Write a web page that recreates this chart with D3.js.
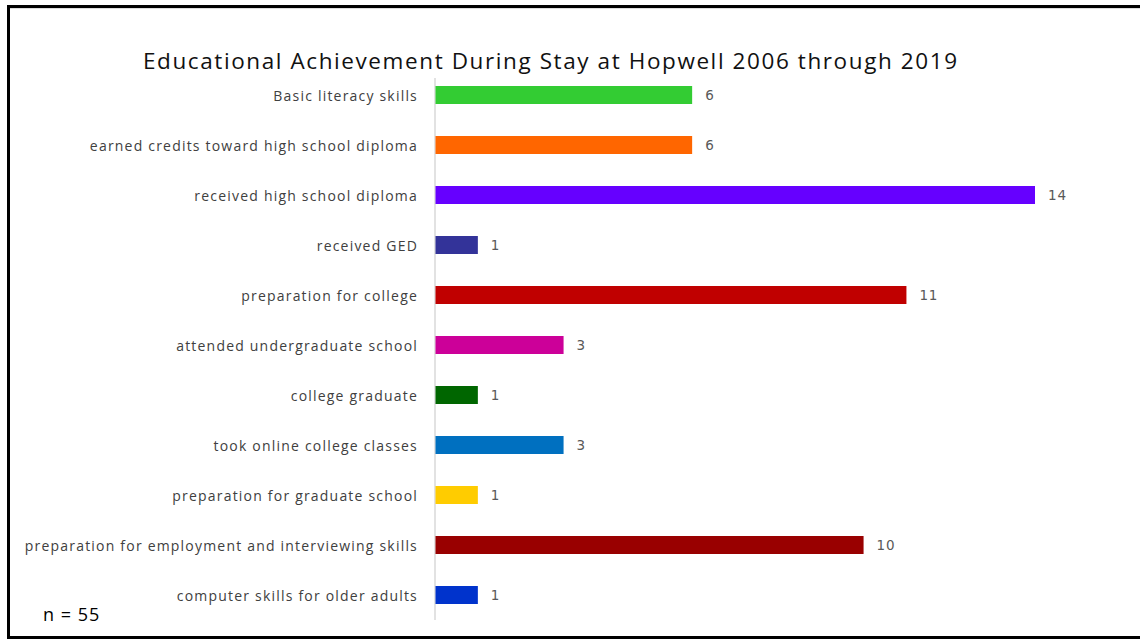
<!DOCTYPE html>
<html>
<head>
<meta charset="utf-8">
<script src="https://cdn.jsdelivr.net/npm/d3@7"></script>
<style>
  html, body { margin: 0; padding: 0; background: #fff; }
  svg { display: block; }
</style>
</head>
<body>
<svg id="chart" width="1140" height="640"></svg>
<script>
// Educational achievement counts, top to bottom
const categories = [
  "Basic literacy skills",
  "earned credits toward high school diploma",
  "received high school diploma",
  "received GED",
  "preparation for college",
  "attended undergraduate school",
  "college graduate",
  "took online college classes",
  "preparation for graduate school",
  "preparation for employment and interviewing skills",
  "computer skills for older adults"
];
const counts = [6, 6, 14, 1, 11, 3, 1, 3, 1, 10, 1];
const barColors = [
  "#33CC33", "#FF6600", "#6600FF", "#333399", "#C00000", "#CC0099",
  "#006600", "#0070C0", "#FFCC00", "#990000", "#0033CC"
];
const titleText = "Educational Achievement During Stay at Hopwell 2006 through 2019";
const noteText = "n = 55";

const svg = d3.select("#chart");

// frame: left, top and bottom edges
svg.append("line")
  .attr("x1", 10).attr("x2", 1140)
  .attr("y1", 8.5).attr("y2", 8.5)
  .attr("stroke", "#dcdcdc")
  .attr("stroke-width", 1);
svg.append("path")
  .attr("d", "M1140,6.5 H8.5 V637.5 H1140")
  .attr("fill", "none")
  .attr("stroke", "#000")
  .attr("stroke-width", 3);

const x = d3.scaleLinear().domain([0, 14]).range([435, 1035]);
const y = d3.scaleBand()
  .domain(categories)
  .range([70, 620])
  .paddingInner(0.64)
  .paddingOuter(0.32);

// title
svg.append("text")
  .attr("x", 143)
  .attr("y", 69)
  .attr("font-family", "'Open Sans', sans-serif")
  .attr("font-size", 22.5)
  .attr("fill", "#111")
  .attr("textLength", 814)
  .attr("lengthAdjust", "spacing")
  .text(titleText);

// baseline
svg.append("line")
  .attr("x1", x(0)).attr("x2", x(0))
  .attr("y1", 78).attr("y2", 620)
  .attr("stroke", "#d9d9d9")
  .attr("stroke-width", 1.5);

// bars
svg.append("g").selectAll("rect")
  .data(categories)
  .join("rect")
  .attr("x", x(0) + 0.5)
  .attr("y", d => y(d))
  .attr("width", (d, i) => x(counts[i]) - x(0) - 0.5)
  .attr("height", y.bandwidth())
  .attr("fill", (d, i) => barColors[i]);

// value labels
svg.append("g").selectAll("text")
  .data(categories)
  .join("text")
  .attr("x", (d, i) => x(counts[i]) + 13)
  .attr("y", d => y(d) + y.bandwidth() / 2)
  .attr("dy", "0.4em")
  .attr("font-family", "'DejaVu Sans', Verdana, sans-serif")
  .attr("font-size", 13.5)
  .attr("letter-spacing", 0.8)
  .attr("fill", "#595959")
  .text((d, i) => counts[i]);

// category axis
const yAxis = svg.append("g")
  .attr("transform", `translate(${x(0)},0)`)
  .call(d3.axisLeft(y).tickSize(0).tickPadding(17));
yAxis.select(".domain").remove();
yAxis.selectAll("text")
  .attr("dy", "0.42em")
  .attr("font-family", "'Open Sans', sans-serif")
  .attr("font-size", 14)
  .attr("letter-spacing", 1.2)
  .attr("fill", "#404040");

// sample size note
svg.append("text")
  .attr("x", 43)
  .attr("y", 621)
  .attr("font-family", "'Open Sans', sans-serif")
  .attr("font-size", 18)
  .attr("letter-spacing", 1)
  .attr("fill", "#000")
  .text(noteText);
</script>
</body>
</html>
